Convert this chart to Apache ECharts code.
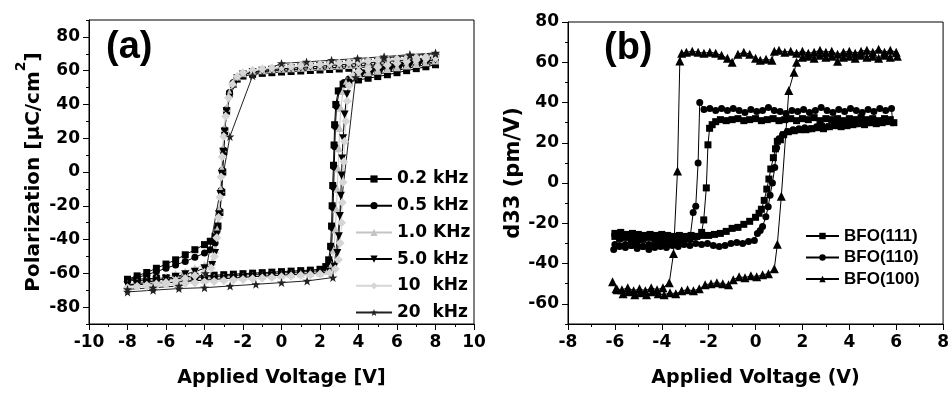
<!DOCTYPE html>
<html>
<head>
<meta charset="utf-8">
<script src="https://cdn.jsdelivr.net/npm/echarts@6/dist/echarts.min.js"></script>
<style>
  html, body { margin: 0; padding: 0; background: #fff; }
  #chart { width: 952px; height: 393px; }
</style>
</head>
<body>
<div id="chart"></div>
<script>
// (a) P-V loops, one array per frequency: [voltage, polarization]
const freqNames = ['0.2 kHz', '0.5 kHz', '1.0 KHz', '5.0 kHz', '10  kHz', '20  kHz'];

const pe02 = [
  [8,65],[7.5,64.6],[7,64.2],[6.5,63.8],[6,63.4],[5.5,63],[5,62.6],[4.5,62.2],[4,61.8],[3.5,61.4],[3,61],[2.5,60.7],[2,60.4],[1.5,60.1],[1,59.8],[0.5,59.5],[0,59.2],[-0.5,58.8],[-1,58.4],[-1.5,57.8],[-2,56.8],[-2.3,55],[-2.5,52],[-2.7,46],[-2.85,36],[-2.95,24],[-3,12],[-3.05,0],[-3.1,-12],[-3.2,-24],[-3.3,-32],[-3.45,-38],[-3.7,-41],[-4,-43],[-4.5,-46],[-5,-49],[-5.5,-52],[-6,-54.5],[-6.5,-57],[-7,-59.5],[-7.5,-61.5],[-8,-63.5],
  [-7.5,-63.5],[-7,-63.2],[-6.5,-62.9],[-6,-62.6],[-5.5,-62.3],[-5,-62],[-4.5,-61.7],[-4,-61.4],[-3.5,-61.1],[-3,-60.8],[-2.5,-60.5],[-2,-60.2],[-1.5,-59.9],[-1,-59.6],[-0.5,-59.3],[0,-59],[0.5,-58.7],[1,-58.4],[1.5,-58.1],[2,-57.6],[2.3,-56],[2.45,-52],[2.55,-44],[2.6,-32],[2.63,-20],[2.66,-8],[2.7,4],[2.73,16],[2.76,28],[2.82,40],[2.95,48],[3.2,52],[3.5,53.5],[4,54.5],[4.5,55.5],[5,56.5],[5.5,57.6],[6,58.8],[6.5,60],[7,61.2],[7.5,62.3],[8,63.5]
];
const pe05 = [
  [8,66],[7.5,65.6],[7,65.2],[6.5,64.8],[6,64.4],[5.5,64],[5,63.6],[4.5,63.2],[4,62.8],[3.5,62.4],[3,62],[2.5,61.7],[2,61.4],[1.5,61.1],[1,60.8],[0.5,60.5],[0,60.2],[-0.5,59.8],[-1,59.4],[-1.5,58.8],[-2,57.8],[-2.3,56],[-2.5,53],[-2.7,47],[-2.85,37],[-2.95,25],[-3.02,13],[-3.08,1],[-3.14,-11],[-3.22,-23],[-3.32,-33],[-3.45,-42],[-3.7,-46],[-4,-48],[-4.5,-50.5],[-5,-53],[-5.5,-55],[-6,-57],[-6.5,-59],[-7,-60.8],[-7.5,-62.5],[-8,-64],
  [-7.5,-64.3],[-7,-64],[-6.5,-63.7],[-6,-63.4],[-5.5,-63.1],[-5,-62.8],[-4.5,-62.5],[-4,-62.2],[-3.5,-61.9],[-3,-61.6],[-2.5,-61.3],[-2,-61],[-1.5,-60.7],[-1,-60.4],[-0.5,-60.1],[0,-59.8],[0.5,-59.5],[1,-59.2],[1.5,-58.9],[2,-58.4],[2.35,-57],[2.5,-53],[2.6,-45],[2.65,-33],[2.68,-21],[2.71,-9],[2.74,3],[2.77,15],[2.8,27],[2.86,39],[3,48],[3.25,53],[3.5,55],[4,56],[4.5,57],[5,58],[5.5,59],[6,60.2],[6.5,61.3],[7,62.4],[7.5,63.5],[8,64.5]
];
const pe10 = [
  [8,67],[7.5,66.6],[7,66.2],[6.5,65.8],[6,65.4],[5.5,65],[5,64.6],[4.5,64.2],[4,63.8],[3.5,63.4],[3,63],[2.5,62.7],[2,62.4],[1.5,62.1],[1,61.8],[0.5,61.5],[0,61.2],[-0.5,60.8],[-1,60.3],[-1.5,59.6],[-2,58.5],[-2.3,56.5],[-2.5,53],[-2.7,47],[-2.85,38],[-2.97,26],[-3.05,14],[-3.1,2],[-3.16,-10],[-3.24,-22],[-3.34,-34],[-3.45,-46],[-3.6,-53],[-4,-55],[-4.5,-57],[-5,-59],[-5.5,-60.5],[-6,-62],[-6.5,-63.2],[-7,-64.4],[-7.5,-65.4],[-8,-66.4],
  [-7.5,-66],[-7,-65.6],[-6.5,-65.2],[-6,-64.8],[-5.5,-64.4],[-5,-64],[-4.5,-63.6],[-4,-63.2],[-3.5,-62.8],[-3,-62.5],[-2.5,-62.2],[-2,-61.9],[-1.5,-61.6],[-1,-61.3],[-0.5,-61],[0,-60.7],[0.5,-60.4],[1,-60.1],[1.5,-59.8],[2,-59.5],[2.4,-58.5],[2.6,-55],[2.72,-46],[2.8,-34],[2.85,-22],[2.9,-10],[2.94,2],[2.98,14],[3.02,26],[3.08,38],[3.2,48],[3.4,54],[3.7,57],[4,58],[4.5,59],[5,60],[5.5,61],[6,62],[6.5,63],[7,64],[7.5,65],[8,66]
];
const pe50 = [
  [8,67.5],[7.5,67.1],[7,66.7],[6.5,66.3],[6,65.9],[5.5,65.5],[5,65.1],[4.5,64.7],[4,64.3],[3.5,63.9],[3,63.5],[2.5,63.1],[2,62.7],[1.5,62.3],[1,61.9],[0.5,61.5],[0,61.1],[-0.5,60.6],[-1,60],[-1.5,59.2],[-2,57.8],[-2.3,55.5],[-2.5,51],[-2.7,44],[-2.85,36],[-2.95,24],[-3.03,12],[-3.1,-1],[-3.17,-13],[-3.25,-25],[-3.35,-37],[-3.45,-48],[-3.6,-55],[-4,-57],[-4.5,-59],[-5,-60.5],[-5.5,-62],[-6,-63.2],[-6.5,-64.3],[-7,-65.3],[-7.5,-66.2],[-8,-67],
  [-7.5,-66.8],[-7,-66.4],[-6.5,-66],[-6,-65.6],[-5.5,-65.2],[-5,-64.8],[-4.5,-64.4],[-4,-64],[-3.5,-63.6],[-3,-63.2],[-2.5,-62.8],[-2,-62.4],[-1.5,-62],[-1,-61.7],[-0.5,-61.4],[0,-61.1],[0.5,-60.8],[1,-60.5],[1.5,-60.2],[2,-59.8],[2.5,-59],[2.75,-56],[2.9,-48],[2.98,-38],[3.03,-26],[3.08,-14],[3.12,-2],[3.15,8],[3.2,20],[3.28,34],[3.4,46],[3.55,53],[3.8,57],[4.2,58.5],[4.7,59.6],[5.2,60.7],[5.7,61.8],[6.2,62.9],[6.7,64],[7.2,65],[7.6,65.8],[8,66.6]
];
const pe100 = [
  [8,68.5],[7.5,68.1],[7,67.7],[6.5,67.3],[6,66.9],[5.5,66.5],[5,66.1],[4.5,65.7],[4,65.3],[3.5,64.9],[3,64.5],[2.5,64.1],[2,63.7],[1.5,63.3],[1,62.9],[0.5,62.5],[0,62.1],[-0.5,61.6],[-1,61],[-1.5,60.2],[-2,58.8],[-2.3,56.5],[-2.55,52],[-2.75,44],[-2.9,33],[-3,21],[-3.08,9],[-3.14,-3],[-3.2,-15],[-3.27,-27],[-3.36,-39],[-3.48,-50],[-3.65,-57],[-4,-59.5],[-4.5,-61.5],[-5,-63],[-5.5,-64.3],[-6,-65.4],[-6.5,-66.3],[-7,-67.1],[-7.5,-67.8],[-8,-68.5],
  [-7.5,-68],[-7,-67.6],[-6.5,-67.2],[-6,-66.8],[-5.5,-66.4],[-5,-66],[-4.5,-65.6],[-4,-65.2],[-3.5,-64.8],[-3,-64.4],[-2.5,-64],[-2,-63.6],[-1.5,-63.2],[-1,-62.8],[-0.5,-62.4],[0,-62],[0.5,-61.6],[1,-61.2],[1.5,-60.8],[2,-60.4],[2.5,-59.8],[2.8,-57.5],[2.95,-52],[3.05,-42],[3.12,-30],[3.16,-18],[3.2,-6],[3.24,6],[3.28,18],[3.34,30],[3.42,42],[3.52,51],[3.7,57],[4,59.5],[4.5,61],[5,62.2],[5.5,63.3],[6,64.4],[6.5,65.4],[7,66.3],[7.5,67],[8,67.7]
];
const pe200 = [
  [8,70.5],[6.67,69.5],[5.33,68.3],[3.95,67.2],[2.6,66.2],[1.3,65.2],[0,64.3],[-1.5,57],[-2.68,21],[-3.95,-60],[-5.33,-67.5],[-6.67,-68.5],[-8,-69.5],
  [-8,-71],[-6.67,-70],[-5.33,-69],[-4,-68.5],[-2.67,-67.5],[-1.33,-66.5],[0,-65.5],[1.33,-64.5],[2.67,-62.5],[3.85,56],[5.33,67.5],[6.67,69],[8,70]
];

// (b) d33 loops: [voltage, d33]
const bfoNames = ['BFO(111)', 'BFO(110)', 'BFO(100)'];

const d111 = [
  [-6,-25],[-5.75,-24.5],[-5.5,-25.5],[-5.25,-25],[-5,-25.5],[-4.75,-26],[-4.5,-25.5],[-4.25,-26],[-4,-25.5],[-3.75,-26],[-3.5,-26.5],[-3.25,-26],[-3,-26.5],[-2.75,-26],[-2.5,-26.5],[-2.25,-26],[-2,-26],[-1.75,-25.5],[-1.5,-25],[-1.25,-24],[-1,-22.5],[-0.75,-22],[-0.5,-20.5],[-0.25,-19],[0,-17],[0.15,-15],[0.25,-13],[0.37,-8.6],[0.48,-3],[0.57,2],[0.65,7],[0.76,12.6],[0.85,17],[0.93,20.7],[1.06,21.5],[1.2,24],[1.4,25.5],[1.65,26],[1.9,26.5],[2.15,26.5],[2.4,27],[2.65,27.5],[2.9,27],[3.15,28],[3.4,28.5],[3.65,28],[3.9,28.5],[4.15,29],[4.4,29.5],[4.65,29],[4.9,30],[5.15,29.5],[5.4,30],[5.65,30.5],[5.9,30],
  [5.75,31.5],[5.5,32],[5.25,31],[5,32],[4.75,31.5],[4.5,32.5],[4.25,31.5],[4,32],[3.75,31],[3.5,32],[3.25,31.5],[3,32],[2.75,31],[2.5,32.5],[2.25,31.5],[2,32],[1.75,31],[1.5,32],[1.25,31.5],[1,31],[0.75,32],[0.5,31.5],[0.25,31],[0,32],[-0.25,31.5],[-0.5,31],[-0.75,32],[-1,31.5],[-1.25,31],[-1.5,31.5],[-1.7,30.5],[-1.85,29],[-1.96,27.2],[-2.03,19],[-2.1,-2.4],[-2.21,-18.3],[-2.3,-24.5],[-2.55,-26.5],[-2.8,-27.5],[-3.05,-27],[-3.3,-28],[-3.55,-27.5],[-3.8,-28],[-4.05,-27.5],[-4.3,-28],[-4.55,-27],[-4.8,-28],[-5.05,-27.5],[-5.3,-28],[-5.55,-27],[-5.8,-27.5],[-6,-26.5]
];
const d110 = [
  [-6.05,-33],[-5.8,-31.5],[-5.55,-32],[-5.3,-31],[-5.05,-32.5],[-4.8,-31.5],[-4.55,-33],[-4.3,-32],[-4.05,-31.5],[-3.8,-32],[-3.55,-31],[-3.3,-31.5],[-3.05,-30.5],[-2.8,-31],[-2.55,-30],[-2.3,-30.5],[-2.05,-30],[-1.8,-31],[-1.55,-31.5],[-1.3,-31],[-1.05,-30],[-0.8,-29.5],[-0.55,-30],[-0.3,-29],[-0.05,-28.5],[0.08,-25],[0.2,-23.5],[0.3,-21.6],[0.44,-16.7],[0.54,-11.8],[0.62,-6.1],[0.72,0],[0.82,7.7],[0.9,17.5],[1,22],[1.15,24],[1.35,25.5],[1.6,26.5],[1.85,27],[2.1,27.5],[2.35,27],[2.6,28],[2.85,28.5],[3.1,28],[3.35,29],[3.6,29.5],[3.85,29],[4.1,30],[4.35,29.5],[4.6,30.5],[4.85,30],[5.1,31],[5.35,30.5],[5.6,31],[5.85,30],
  [5.8,37],[5.55,36],[5.3,37],[5.05,35.5],[4.8,36.5],[4.55,35],[4.3,36],[4.05,37],[3.8,35.5],[3.55,36.5],[3.3,35],[3.05,36],[2.8,37.5],[2.55,36],[2.3,35],[2.05,36.5],[1.8,35.5],[1.55,36],[1.3,34.5],[1.05,35.5],[0.8,36],[0.55,37.5],[0.3,36],[0.05,35.5],[-0.2,36.5],[-0.45,35],[-0.7,36],[-0.95,37],[-1.2,36],[-1.45,37],[-1.7,36],[-1.95,37],[-2.2,36.5],[-2.38,40],[-2.45,10],[-2.55,-11.5],[-2.66,-14.6],[-2.8,-28],[-3.05,-29.5],[-3.3,-30.5],[-3.55,-29.5],[-3.8,-31],[-4.05,-30],[-4.3,-31],[-4.55,-30.5],[-4.8,-31.5],[-5.05,-30],[-5.3,-31],[-5.55,-30.5],[-5.8,-31],[-6,-30.5]
];
const d100 = [
  [-6.1,-49],[-5.9,-53],[-5.65,-55],[-5.4,-54],[-5.15,-55.5],[-4.9,-54.5],[-4.65,-55.5],[-4.4,-54],[-4.15,-55],[-3.9,-55.5],[-3.65,-54.5],[-3.4,-55],[-3.15,-53.5],[-2.9,-53],[-2.65,-53.5],[-2.4,-52.5],[-2.15,-50.5],[-1.9,-50],[-1.65,-49.5],[-1.4,-50],[-1.15,-50.5],[-0.95,-48],[-0.7,-46.5],[-0.45,-47],[-0.2,-46],[0.05,-46.5],[0.3,-45.5],[0.55,-45],[0.8,-42.5],[0.93,-30.4],[1.1,-6.5],[1.42,46],[1.64,55],[1.75,60],[2,62.5],[2.25,63],[2.5,62],[2.75,63.5],[3,62.5],[3.25,63],[3.5,60.5],[3.75,62.5],[4,63],[4.25,62],[4.5,63.5],[4.75,62.5],[5,63],[5.25,62],[5.5,63.5],[5.75,62.5],[6.05,63],
  [6,65],[5.75,66],[5.5,65],[5.25,66.5],[5,65],[4.75,66],[4.5,65.5],[4.25,64.5],[4,65.5],[3.75,65],[3.5,64],[3.25,65.5],[3,65],[2.75,66],[2.5,65],[2.25,64.5],[2,65.5],[1.75,64.5],[1.5,65.5],[1.25,65],[1,66],[0.8,65.5],[0.7,61],[0.45,61.5],[0.2,61],[0,62],[-0.25,64],[-0.5,65],[-0.75,64],[-1,60],[-1.2,62],[-1.45,63.5],[-1.7,64.5],[-1.95,65],[-2.2,64.5],[-2.45,65],[-2.7,65.5],[-2.95,65],[-3.15,64.5],[-3.23,60.6],[-3.33,6],[-3.5,-35],[-3.68,-49.5],[-3.95,-52],[-4.2,-53],[-4.45,-52],[-4.7,-53.5],[-4.95,-52.5],[-5.2,-53.5],[-5.45,-52],[-5.7,-53],[-5.95,-52.5]
];

// tick labels
const yTicksA = [-80, -60, -40, -20, 0, 20, 40, 60, 80];
const yTicksB = [-60, -40, -20, 0, 20, 40, 60, 80];

const STAR = 'path://M0,-10L2.35,-3.24L9.51,-3.09L3.8,1.24L5.88,8.09L0,4L-5.88,8.09L-3.8,1.24L-9.51,-3.09L-2.35,-3.24Z';
const tickFont = { color: '#000', fontFamily: 'DejaVu Sans', fontWeight: 'bold', fontSize: 17 };
const titleFont = { color: '#000', fontFamily: 'DejaVu Sans', fontWeight: 'bold', fontSize: 19 };
const black = { color: '#000', width: 1 };

const lineSeries = (name, data, axis, symbol, size, color, rotate) => ({
    name: name,
    type: 'line',
    xAxisIndex: axis,
    yAxisIndex: axis * 2,
    data: data,
    symbol: symbol,
    symbolSize: size,
    symbolRotate: rotate || 0,
    showAllSymbol: true,
    lineStyle: { width: 1, color: color },
    itemStyle: { color: color },
    emphasis: { disabled: true }
});

const xAxisOf = (gi, min, max, title) => ({
    gridIndex: gi, type: 'value', min: min, max: max, interval: 2,
    axisLine: { onZero: false, lineStyle: black },
    axisTick: { length: 6, lineStyle: black },
    minorTick: { show: true, splitNumber: 2, length: 3, lineStyle: black },
    splitLine: { show: false },
    axisLabel: Object.assign({ margin: 10, showMinLabel: true, showMaxLabel: true }, tickFont),
    name: title, nameLocation: 'middle', nameGap: 45,
    nameTextStyle: titleFont
});

// two y axes per panel: one for labels + short ticks, one for the long ticks
const yAxesOf = (gi, min, max, ticks, title, gap, nameStyle) => ([
    {
        gridIndex: gi, type: 'value', position: 'left', min: min, max: max, interval: 10,
        axisLine: { onZero: false, lineStyle: black },
        axisTick: { length: 3, lineStyle: black },
        splitLine: { show: false },
        axisLabel: Object.assign({ margin: 9, customValues: ticks }, tickFont),
        name: title, nameLocation: 'middle', nameGap: gap, nameRotate: 90,
        nameTextStyle: nameStyle
    },
    {
        gridIndex: gi, type: 'value', position: 'left', min: min, max: max, interval: 10,
        axisLine: { show: false, onZero: false },
        axisTick: { length: 6, lineStyle: black, customValues: ticks },
        axisLabel: { show: false },
        splitLine: { show: false }
    }
]);

var chartDom = document.getElementById('chart');
var myChart = echarts.init(chartDom, null, { renderer: 'canvas' });

myChart.setOption({
    animation: false,
    backgroundColor: '#fff',
    grid: [
        { left: 89, right: 478, top: 20, bottom: 65, show: true, borderColor: '#000', borderWidth: 1 },
        { left: 568, right: 6, top: 22, bottom: 64, show: true, borderColor: '#000', borderWidth: 1 }
    ],
    xAxis: [
        xAxisOf(0, -10, 10, 'Applied Voltage [V]'),
        xAxisOf(1, -8, 8, 'Applied Voltage (V)')
    ],
    yAxis: [
        ...yAxesOf(0, -90, 90, yTicksA, '{m|Polarization [µC/cm}{s|2}{m|]}', 45, {
            rich: {
                m: { fontFamily: 'DejaVu Sans', fontWeight: 'bold', fontSize: 20, color: '#000', lineHeight: 30, verticalAlign: 'bottom' },
                s: { fontFamily: 'DejaVu Sans', fontWeight: 'bold', fontSize: 14, color: '#000', lineHeight: 30, verticalAlign: 'top' }
            }
        }),
        ...yAxesOf(1, -70, 80, yTicksB, 'd33 (pm/V)', 43, Object.assign({}, titleFont, { fontSize: 21 }))
    ],
    legend: [
        {
            data: freqNames, orient: 'vertical', left: 350, top: 164,
            itemWidth: 36, itemHeight: 9, itemGap: 6.7,
            textStyle: Object.assign({ lineHeight: 20 }, tickFont),
            selectedMode: false
        },
        {
            data: bfoNames, orient: 'vertical', left: 800, top: 222,
            itemWidth: 33, itemHeight: 8, itemGap: 3.5,
            textStyle: { color: '#000', fontFamily: 'Liberation Sans', fontWeight: 'bold', fontSize: 17, lineHeight: 18 },
            selectedMode: false
        }
    ],
    graphic: [
        { type: 'text', left: 106, top: 29, style: { text: '(a)', font: 'bold 38px "Liberation Sans"', fill: '#000' } },
        { type: 'text', left: 604, top: 30, style: { text: '(b)', font: 'bold 38px "Liberation Sans"', fill: '#000' } }
    ],
    series: [
        lineSeries(freqNames[0], pe02, 0, 'rect', 7, '#000'),
        lineSeries(freqNames[1], pe05, 0, 'circle', 7, '#000'),
        lineSeries(freqNames[2], pe10, 0, 'triangle', 8, '#c4c4c4'),
        lineSeries(freqNames[3], pe50, 0, 'triangle', 8, '#000', 180),
        lineSeries(freqNames[4], pe100, 0, 'diamond', 9, '#d6d6d6'),
        lineSeries(freqNames[5], pe200, 0, STAR, 9, '#222'),
        lineSeries(bfoNames[0], d111, 1, 'rect', 7, '#000'),
        lineSeries(bfoNames[1], d110, 1, 'circle', 7, '#000'),
        lineSeries(bfoNames[2], d100, 1, 'triangle', 9, '#000')
    ]
});

new ResizeObserver(() => myChart.resize()).observe(chartDom);
</script>
</body>
</html>
